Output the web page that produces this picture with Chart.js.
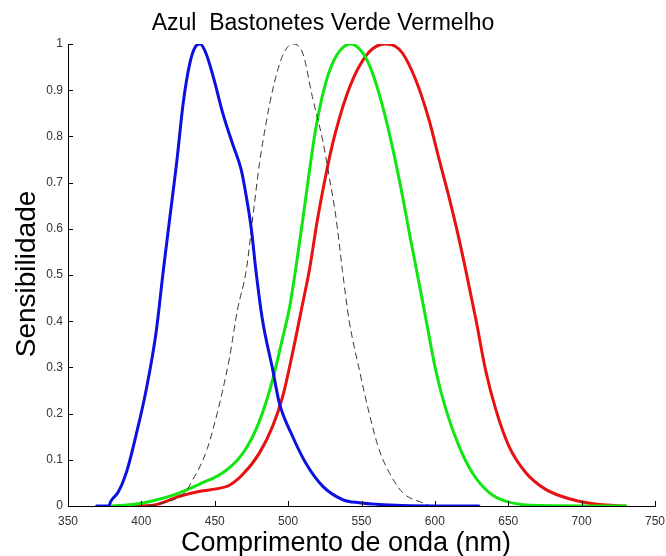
<!DOCTYPE html>
<html lang="pt">
<head>
    <meta charset="UTF-8">
    <title>Sensibilidade dos cones e bastonetes</title>
    <script src="https://cdn.jsdelivr.net/npm/chart.js"></script>
    <style>
        html, body { margin: 0; padding: 0; background: #fff; }
        #box { width: 666px; height: 556px; }
    </style>
</head>
<body>
    <div id="box"><canvas id="grafico"></canvas></div>

    <script>
        // comprimento de onda (nm) e sensibilidade
        const azulNm   = [369.5, 377.5, 379.5, 381, 384, 390, 396.5, 403.5, 410, 415, 419.5, 424, 428.5, 433, 437, 440, 444, 449, 455.5, 462, 468, 471.5, 475, 478, 482.5, 489.5, 494, 503, 512, 523.5, 537, 548.5, 570, 600, 630];
        const azulSens = [0, 0, 0.012, 0.018, 0.029, 0.075, 0.155, 0.255, 0.375, 0.511, 0.627, 0.742, 0.872, 0.958, 0.995, 1.0, 0.98, 0.929, 0.85, 0.785, 0.728, 0.67, 0.598, 0.511, 0.403, 0.295, 0.223, 0.151, 0.093, 0.043, 0.014, 0.007, 0.002, 0, 0];

        const bastNm   = [405, 415, 430.5, 435, 440, 445, 450, 455, 460, 465.5, 471.5, 476, 480.5, 485, 489.5, 496, 503, 510, 516.5, 523.5, 528, 532.5, 537, 541.5, 548.5, 555.3, 562, 569, 578, 591.5, 597];
        const bastSens = [0, 0.007, 0.032, 0.057, 0.086, 0.125, 0.18, 0.245, 0.32, 0.425, 0.511, 0.627, 0.742, 0.829, 0.901, 0.973, 1.0, 0.98, 0.886, 0.792, 0.713, 0.627, 0.51, 0.403, 0.295, 0.2, 0.122, 0.072, 0.029, 0.007, 0];

        const verdeNm   = [378.5, 390, 400, 410, 420, 430, 440, 450, 455.5, 460, 465, 470, 475, 480, 485, 490, 496.5, 501, 505.5, 510, 514.5, 519, 526, 533, 542.5, 551, 557.5, 564.5, 571, 578, 583.5, 587.5, 594, 600.5, 607.5, 616.5, 625.5, 637, 648.5, 671, 730];
        const verdeSens = [0, 0.002, 0.006, 0.013, 0.022, 0.034, 0.048, 0.062, 0.072, 0.083, 0.098, 0.118, 0.145, 0.18, 0.225, 0.28, 0.367, 0.43, 0.52, 0.62, 0.725, 0.82, 0.92, 0.975, 1.0, 0.98, 0.937, 0.864, 0.778, 0.67, 0.576, 0.511, 0.403, 0.295, 0.209, 0.129, 0.072, 0.029, 0.01, 0.001, 0];

        const vermNm   = [395, 410, 426, 440, 451, 460, 469, 480.5, 489.5, 496.3, 503, 510, 514.5, 520, 525, 530, 535, 540, 545, 550, 555, 560, 566.5, 573, 578, 587, 596, 603, 609.5, 615.5, 621, 628, 634.5, 641.5, 650.5, 662, 675.5, 693.5, 712, 730];
        const vermSens = [0, 0.003, 0.021, 0.032, 0.037, 0.045, 0.068, 0.115, 0.173, 0.237, 0.331, 0.44, 0.511, 0.62, 0.705, 0.78, 0.84, 0.89, 0.93, 0.96, 0.982, 0.995, 1.0, 0.995, 0.98, 0.922, 0.836, 0.749, 0.67, 0.591, 0.511, 0.403, 0.295, 0.209, 0.129, 0.072, 0.036, 0.014, 0.003, 0];

        const titulo = 'Azul  Bastonetes Verde Vermelho';
        const tituloX = 'Comprimento de onda (nm)';
        const tituloY = 'Sensibilidade';

        const fonte = '"Liberation Sans", Arial, Helvetica, sans-serif';

        function pontos(xs, ys) {
            return xs.map((x, i) => ({ x: x, y: ys[i] }));
        }

        // textos e marcas de escala para dentro, como no Matlab
        const extras = {
            id: 'extras',
            afterDraw(chart) {
                const c = chart.ctx;
                const sx = chart.scales.x, sy = chart.scales.y;
                const area = chart.chartArea;
                c.save();
                c.strokeStyle = '#000';
                c.lineWidth = 1;
                c.beginPath();
                sx.ticks.forEach(t => {
                    const px = Math.round(sx.getPixelForValue(t.value)) + 0.5;
                    c.moveTo(px, area.bottom);
                    c.lineTo(px, area.bottom - 5);
                });
                sy.ticks.forEach(t => {
                    const py = Math.round(sy.getPixelForValue(t.value)) + 0.5;
                    c.moveTo(area.left, py);
                    c.lineTo(area.left + 5, py);
                });
                c.stroke();

                c.fillStyle = '#000';
                c.textAlign = 'center';
                c.textBaseline = 'alphabetic';
                c.font = '23px ' + fonte;
                c.fillText(titulo, 323, 30);
                c.font = '27px ' + fonte;
                c.fillText(tituloX, 346, 551);
                c.translate(35, 274);
                c.rotate(-Math.PI / 2);
                c.font = '28px ' + fonte;
                c.fillText(tituloY, 0, 0);
                c.restore();
            }
        };

        const ctx = document.getElementById('grafico').getContext('2d');
        new Chart(ctx, {
            type: 'line',
            data: {
                datasets: [
                    { label: 'Azul', data: pontos(azulNm, azulSens), borderColor: '#0c10e0', borderWidth: 3 },
                    { label: 'Bastonetes', data: pontos(bastNm, bastSens), borderColor: '#333', borderWidth: 1, borderDash: [6, 5] },
                    { label: 'Verde', data: pontos(verdeNm, verdeSens), borderColor: '#10e610', borderWidth: 3 },
                    { label: 'Vermelho', data: pontos(vermNm, vermSens), borderColor: '#e81010', borderWidth: 3 }
                ]
            },
            options: {
                responsive: true,
                maintainAspectRatio: false,
                animation: false,
                elements: {
                    point: { radius: 0 },
                    line: { cubicInterpolationMode: 'monotone', borderCapStyle: 'round', borderJoinStyle: 'round' }
                },
                layout: { padding: { top: 44, right: 11, left: 0, bottom: 0 } },
                plugins: {
                    legend: { display: false },
                    tooltip: { enabled: false }
                },
                scales: {
                    x: {
                        type: 'linear',
                        min: 350,
                        max: 750,
                        grid: { display: false, drawTicks: false },
                        border: { display: true, color: '#000', width: 1 },
                        ticks: { stepSize: 50, padding: 8, color: '#333', font: { family: fonte, size: 12 }, maxRotation: 0 },
                        afterFit(s) {
                            s.height = 50;
                            s.paddingLeft = 0;
                            s.paddingRight = 0;
                        }
                    },
                    y: {
                        min: 0,
                        max: 1,
                        grid: { display: false, drawTicks: false },
                        border: { display: true, color: '#000', width: 1 },
                        ticks: {
                            stepSize: 0.1, padding: 5, color: '#333', font: { family: fonte, size: 12 },
                            callback: v => String(+v.toFixed(1))
                        },
                        afterFit(s) {
                            s.width = 68;
                            s.paddingTop = 0;
                            s.paddingBottom = 0;
                        }
                    }
                }
            },
            plugins: [extras]
        });
    </script>
</body>
</html>
